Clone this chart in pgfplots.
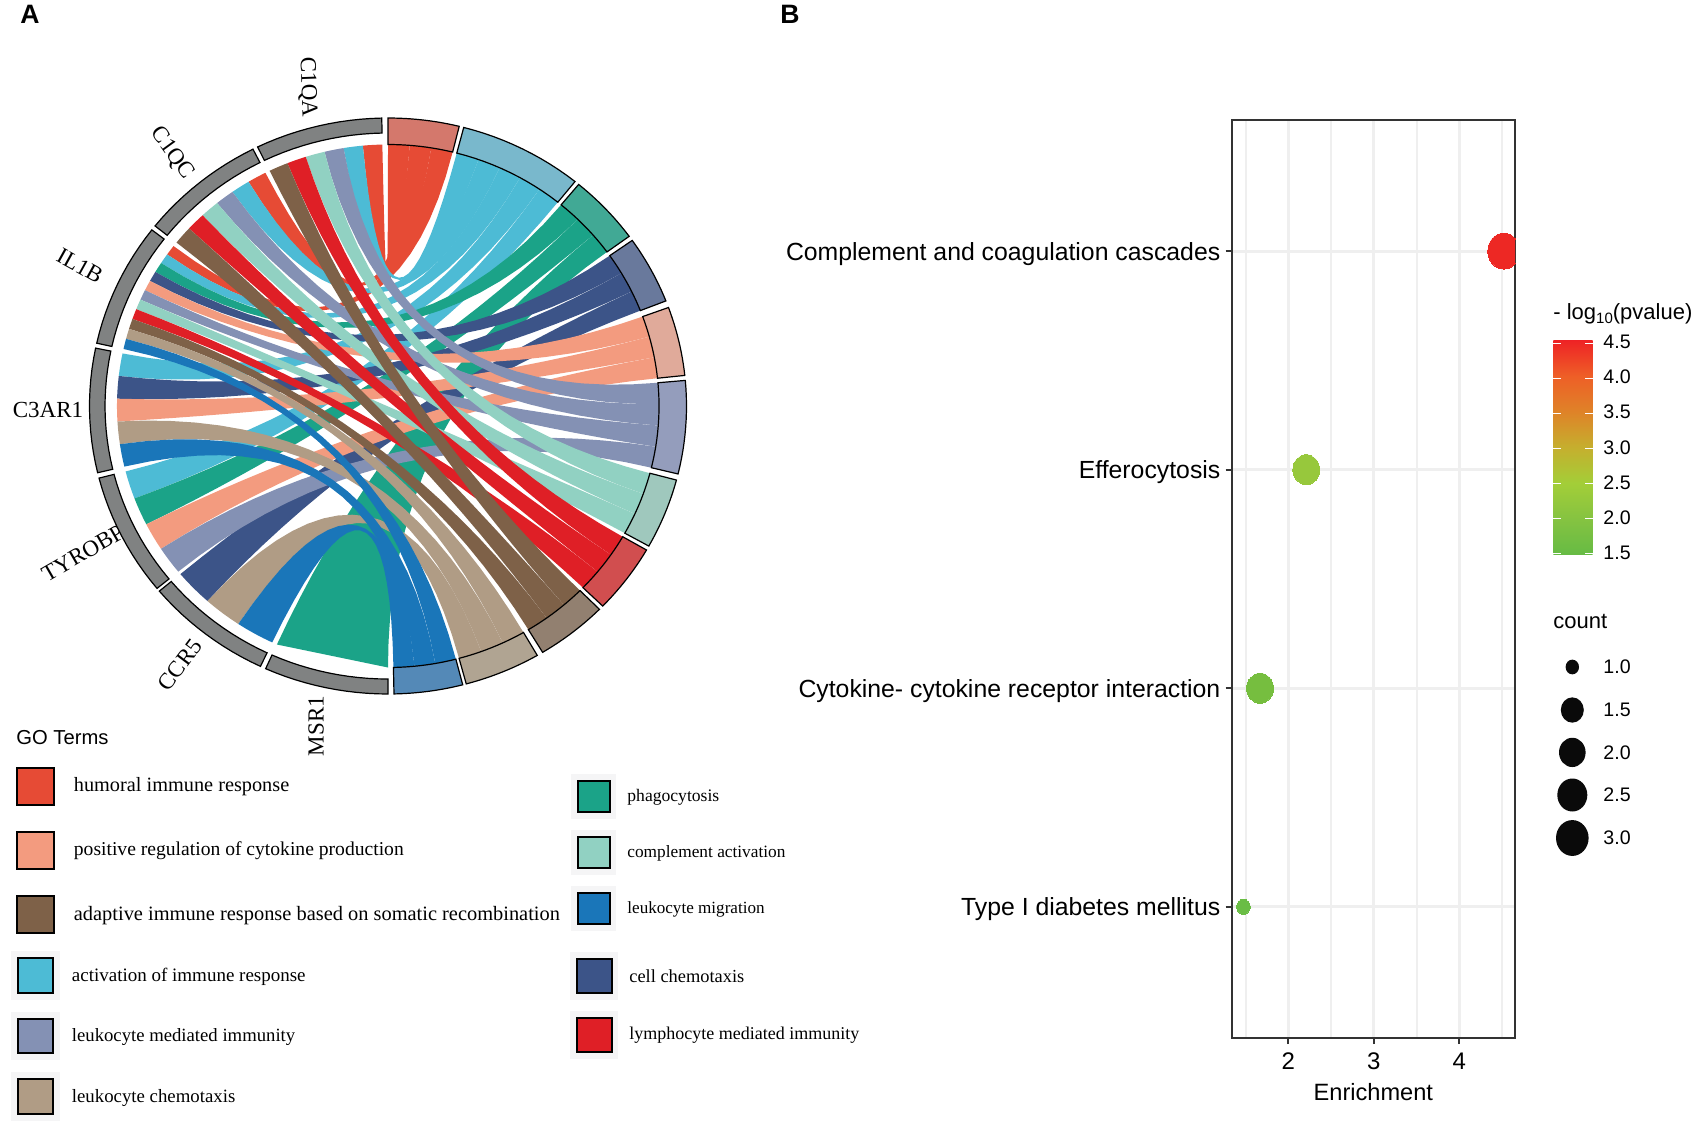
\documentclass[border=0pt]{standalone}
\usepackage{fontspec}
\setmainfont{Liberation Sans}
\newfontfamily\serifx{Liberation Serif}
\usepackage{pgfplots}
\pgfplotsset{compat=1.18}
\definecolor{cHum}{HTML}{E64B35}
\definecolor{cAct}{HTML}{4DBBD5}
\definecolor{cPha}{HTML}{1BA388}
\definecolor{cNav}{HTML}{3C5488}
\definecolor{cSal}{HTML}{F39B7F}
\definecolor{cSla}{HTML}{8491B4}
\definecolor{cMin}{HTML}{91D1C2}
\definecolor{cRed}{HTML}{DF1F26}
\definecolor{cBro}{HTML}{7E6148}
\definecolor{cTan}{HTML}{B09C85}
\definecolor{cBlu}{HTML}{1A76B9}
\definecolor{rHum}{HTML}{D4786C}
\definecolor{rAct}{HTML}{79B8CC}
\definecolor{rPha}{HTML}{41A995}
\definecolor{rNav}{HTML}{69799C}
\definecolor{rSal}{HTML}{E0AA9A}
\definecolor{rSla}{HTML}{949DBC}
\definecolor{rMin}{HTML}{9FC8BD}
\definecolor{rRed}{HTML}{D14E4F}
\definecolor{rBro}{HTML}{928070}
\definecolor{rTan}{HTML}{B0A492}
\definecolor{rBlu}{HTML}{5489B7}
\definecolor{rGen}{HTML}{808282}
\definecolor{gridc}{HTML}{EFEFEF}
\definecolor{panel}{HTML}{333333}
\definecolor{sbg}{HTML}{F5F5F6}
\definecolor{pA}{HTML}{ED2824}
\definecolor{pB}{HTML}{97C83C}
\definecolor{pC}{HTML}{76BE3F}
\definecolor{pD}{HTML}{6ABD45}
\definecolor{cb0}{HTML}{66BB44}
\definecolor{cb1}{HTML}{85C341}
\definecolor{cb2}{HTML}{A3CE38}
\definecolor{cb3}{HTML}{C5AF2E}
\definecolor{cb4}{HTML}{DF8328}
\definecolor{cb5}{HTML}{EE5F27}
\definecolor{cb6}{HTML}{EE2325}
\pgfdeclareverticalshading{cbar}{100bp}{color(0bp)=(cb0);color(25bp)=(cb0);color(33.33bp)=(cb1);color(41.67bp)=(cb2);color(50bp)=(cb3);color(58.33bp)=(cb4);color(66.67bp)=(cb5);color(75bp)=(cb6);color(100bp)=(cb6)}
% chord geometry
\def\Rr{0.908}
\newcommand\addpts[2]{% arc from #1 to #2
  \foreach \k in {0,1,...,4}{%
    \pgfmathsetmacro\ang{#1+(#2-#1)*\k/4}%
    \pgfmathsetmacro\px{\Rr*cos(\ang)}%
    \pgfmathsetmacro\py{\Rr*sin(\ang)}%
    \xdef\pts{\pts (\px,\py)}%
  }}
\newcommand\addbez[2]{% quadratic, control at the centre, from angle #1 to #2
  \pgfmathsetmacro\ca{\Rr*cos(#1)}\pgfmathsetmacro\sa{\Rr*sin(#1)}%
  \pgfmathsetmacro\cb{\Rr*cos(#2)}\pgfmathsetmacro\sb{\Rr*sin(#2)}%
  \foreach \k in {1,2,...,19}{%
    \pgfmathsetmacro\tt{\k/20}%
    \pgfmathsetmacro\px{(1-\tt)*(1-\tt)*\ca+\tt*\tt*\cb}%
    \pgfmathsetmacro\py{(1-\tt)*(1-\tt)*\sa+\tt*\tt*\sb}%
    \xdef\pts{\pts (\px,\py)}%
  }}
\newcommand\ribbon[5]{%
  \gdef\pts{}%
  \addpts{#2}{#3}\addbez{#3}{#4}\addpts{#4}{#5}\addbez{#5}{#2}%
  \edef\tmp{\noexpand\addplot[fill=#1,draw=none,forget plot] coordinates {\pts};}\tmp}
\newcommand\chordflat[5]{% gene end drawn as a straight edge
  \gdef\pts{}%
  \pgfmathsetmacro\px{\Rr*cos(#2)}\pgfmathsetmacro\py{\Rr*sin(#2)}\xdef\pts{(\px,\py)}%
  \pgfmathsetmacro\px{\Rr*cos(#3)}\pgfmathsetmacro\py{\Rr*sin(#3)}\xdef\pts{\pts (\px,\py)}%
  \addbez{#3}{#4}\addpts{#4}{#5}\addbez{#5}{#2}%
  \edef\tmp{\noexpand\addplot[fill=#1,draw=none,forget plot] coordinates {\pts};}\tmp}
\newcommand\sector[5]{% colour, a1, a2, r inner, r outer
  \gdef\pts{}%
  \foreach \k in {0,1,...,12}{%
    \pgfmathsetmacro\ang{#2+(#3-#2)*\k/12}%
    \pgfmathsetmacro\px{#5*cos(\ang)}\pgfmathsetmacro\py{#5*sin(\ang)}%
    \xdef\pts{\pts (\px,\py)}}%
  \foreach \k in {12,11,...,0}{%
    \pgfmathsetmacro\ang{#2+(#3-#2)*\k/12}%
    \pgfmathsetmacro\px{#4*cos(\ang)}\pgfmathsetmacro\py{#4*sin(\ang)}%
    \xdef\pts{\pts (\px,\py)}}%
  \edef\tmp{\noexpand\addplot[fill=#1,draw=black,line width=0.6pt,line join=miter,forget plot] coordinates {\pts} -- cycle;}\tmp}
\begin{document}
\begin{tikzpicture}
\useasboundingbox (0,0) rectangle (850.5pt,566pt);
\begin{scope}[x=0.5pt,y=-0.5pt,shift={(0,566pt)}]
\node[font=\bfseries\fontsize{13.3}{14}\selectfont,inner sep=0] at (30,14.5) {A};
\node[font=\bfseries\fontsize{13.3}{14}\selectfont,inner sep=0] at (790,14.5) {B};
\begin{scope}[every node/.style={font=\serifx\fontsize{11.5}{13}\selectfont,inner sep=0}]
\node[rotate=-88] at (307.5,87) {C1QA};
\node[rotate=-54] at (172,153) {C1QC};
\node[rotate=-29] at (80,266) {IL1B};
\node at (48,410) {C3AR1};
\node[rotate=30] at (83,553) {TYROBP};
\node[rotate=53] at (180,665) {CCR5};
\node[rotate=90] at (316,726) {MSR1};
\end{scope}
\end{scope}
\begin{axis}[at={(-0.025pt,175.8pt)},anchor=south west,scale only axis,
  width=388.05pt,height=374.4pt,xmin=-1.3,xmax=1.3,ymin=-1.3,ymax=1.3,
  hide axis,clip=false]
\ribbon{cHum}{91.2}{95.32}{85.4}{90}
\ribbon{cHum}{116.9}{120.97}{80.8}{85.4}
\ribbon{cHum}{142.3}{144.58}{76.2}{80.8}
\ribbon{cAct}{95.32}{99.43}{70.48}{75.3}
\ribbon{cAct}{120.97}{125.03}{65.66}{70.48}
\ribbon{cAct}{144.58}{146.86}{60.84}{65.66}
\ribbon{cAct}{168.4}{173.4}{56.02}{60.84}
\ribbon{cAct}{194.5}{200.7}{51.2}{56.02}
\ribbon{cPha}{146.86}{149.15}{45.57}{50.3}
\ribbon{cPha}{200.7}{206.9}{40.83}{45.57}
\chordflat{cPha}{245.8}{270}{36.1}{40.83}
\ribbon{cNav}{149.15}{151.43}{30.53}{35.1}
\ribbon{cNav}{173.4}{178.4}{25.97}{30.53}
\ribbon{cNav}{220}{228.23}{21.4}{25.97}
\ribbon{cSal}{151.43}{153.71}{15.37}{20}
\ribbon{cSal}{178.4}{183.4}{10.73}{15.37}
\ribbon{cSal}{206.9}{213.1}{6.1}{10.73}
\ribbon{cSla}{99.43}{103.55}{0.41}{5.1}
\ribbon{cSla}{125.03}{129.1}{-4.28}{0.41}
\ribbon{cSla}{153.71}{155.99}{-8.96}{-4.28}
\ribbon{cSla}{213.1}{219.3}{-13.65}{-8.96}
\ribbon{cMin}{103.55}{107.67}{-19.63}{-14.9}
\ribbon{cMin}{129.1}{133.17}{-24.37}{-19.63}
\ribbon{cMin}{155.99}{158.27}{-29.1}{-24.37}
\ribbon{cRed}{107.67}{111.78}{-34.67}{-30}
\ribbon{cRed}{133.17}{137.23}{-39.33}{-34.67}
\ribbon{cRed}{158.27}{160.56}{-44}{-39.33}
\ribbon{cBro}{111.78}{115.9}{-49.53}{-44.9}
\ribbon{cBro}{137.23}{141.3}{-54.17}{-49.53}
\ribbon{cBro}{160.56}{162.84}{-58.8}{-54.17}
\ribbon{cTan}{162.84}{165.12}{-64.93}{-60}
\ribbon{cTan}{183.4}{188.4}{-69.87}{-64.93}
\ribbon{cTan}{228.23}{236.47}{-74.8}{-69.87}
\ribbon{cBlu}{165.12}{167.4}{-79.95}{-75.5}
\ribbon{cBlu}{188.4}{193.4}{-84.4}{-79.95}
\ribbon{cBlu}{236.47}{244.7}{-88.85}{-84.4}
% term sectors
\sector{rHum}{76.2}{90}{0.908}{1}
\sector{rAct}{51.2}{75.3}{0.908}{1}
\sector{rPha}{36.1}{50.3}{0.908}{1}
\sector{rNav}{21.4}{35.1}{0.908}{1}
\sector{rSal}{6.1}{20}{0.908}{1}
\sector{rSla}{-13.65}{5.1}{0.908}{1}
\sector{rMin}{-29.1}{-14.9}{0.908}{1}
\sector{rRed}{-44}{-30}{0.908}{1}
\sector{rBro}{-58.8}{-44.9}{0.908}{1}
\sector{rTan}{-74.8}{-60}{0.908}{1}
\sector{rBlu}{-88.85}{-75.5}{0.908}{1}
% gene sectors
\sector{rGen}{91.2}{115.9}{0.948}{1}
\sector{rGen}{116.9}{141.3}{0.948}{1}
\sector{rGen}{142.3}{167.4}{0.948}{1}
\sector{rGen}{168.4}{193.4}{0.948}{1}
\sector{rGen}{194.5}{219.3}{0.948}{1}
\sector{rGen}{220}{244.7}{0.948}{1}
\sector{rGen}{245.8}{270}{0.948}{1}
\end{axis}
% panel B
\begin{axis}[at={(615.85pt,47pt)},anchor=south west,scale only axis,
  width=141.65pt,height=459pt,
  xmin=1.338,xmax=4.651,ymin=0.4,ymax=4.6,
  xtick={2,3,4},minor xtick={1.5,2.5,3.5,4.5},
  ytick={1,2,3,4},
  yticklabels={Type I diabetes mellitus,Cytokine- cytokine receptor interaction,Efferocytosis,Complement and coagulation cascades},
  tick pos=left,tick align=outside,
  major tick length=3pt,minor tick length=0pt,
  tick style={panel,line width=1pt},
  axis line style={panel,line width=1pt},
  grid=both,
  major grid style={gridc,line width=1.4pt},
  minor grid style={gridc,line width=1pt},
  yticklabel style={font=\fontsize{12.4}{14}\selectfont,inner sep=0pt,xshift=-2.5pt,yshift=-1.3pt},
  xticklabel style={font=\fontsize{12}{14}\selectfont,yshift=-1pt},
  /pgf/number format/assume math mode=true,
  xlabel={Enrichment},xlabel style={font=\fontsize{11.8}{14}\selectfont,yshift=0.3pt},
  clip marker paths=true]
\addplot[only marks,color=pA,mark=*,mark size=8pt,mark options={draw=pA,line width=0pt,fill=pA,yscale=1.12}] coordinates {(4.52,4)};
\addplot[only marks,color=pB,mark=*,mark size=6.7pt,mark options={draw=pB,line width=0pt,fill=pB,yscale=1.12}] coordinates {(2.21,3)};
\addplot[only marks,color=pC,mark=*,mark size=6.7pt,mark options={draw=pC,line width=0pt,fill=pC,yscale=1.12}] coordinates {(1.67,2)};
\addplot[only marks,color=pD,mark=*,mark size=3.4pt,mark options={draw=pD,line width=0pt,fill=pD,yscale=1.1}] coordinates {(1.475,1)};
\end{axis}
\begin{scope}[x=0.5pt,y=-0.5pt,shift={(0,566pt)}]
% colour bar legend
\node[anchor=west,inner sep=0,font=\fontsize{11}{13}\selectfont] at (1553,314) {- log\raisebox{-0.35ex}{\fontsize{7.5}{8}\selectfont 10}(pvalue)};
\shade[shading=cbar] (1553.3,340.5) rectangle (1592.7,554.7);
\foreach \yy/\lab in {343/4.5,378.1/4.0,413.2/3.5,448.3/3.0,483.4/2.5,518.5/2.0,553.6/1.5}{
  \draw[white,line width=0.5pt] (1553.3,\yy) -- (1561,\yy);
  \draw[white,line width=0.5pt] (1585,\yy) -- (1592.7,\yy);
  \node[anchor=west,inner sep=0,font=\fontsize{9.8}{12}\selectfont] at (1603,\yy-1) {\lab};
}
\node[anchor=west,inner sep=0,font=\fontsize{11}{13}\selectfont] at (1553,621) {count};
\foreach \yy/\lab/\dd in {667/1.0/6.7,710/1.5/11.5,752.4/2.0/13.3,795/2.5/15,838/3.0/16.3}{
  \pgfmathsetmacro\ee{\dd*1.1}
  \fill[black!96] (1572.3,\yy) ellipse ({\dd} and {\ee});
  \node[anchor=west,inner sep=0,font=\fontsize{9.8}{12}\selectfont] at (1603,\yy) {\lab};
}
% GO legend
\node[anchor=west,inner sep=0,font=\fontsize{10.1}{12}\selectfont] at (16,738) {GO Terms};
\foreach \xa/\ya/\xb/\yb/\cc in {17/768/54/805/cHum,17/832/54/869/cSal,17/896/54/933/cBro}{
  \filldraw[fill=\cc,draw=black,line width=0.6pt] (\xa,\ya) rectangle (\xb,\yb);}
\foreach \xa/\ya/\xb/\yb/\cc in {18/958/53/993/cAct,18/1019/53/1053/cSla,18/1079/53/1114/cTan}{
  \fill[sbg] (\xa-7,\ya-7) rectangle (\xb+7,\yb+7);
  \filldraw[fill=\cc,draw=black,line width=0.6pt] (\xa,\ya) rectangle (\xb,\yb);}
\foreach \xa/\ya/\xb/\yb/\cc in {578/781/610/812/cPha,578/837/610/868/cMin,578/893/610/924/cBlu,577/959/612/993/cNav,577/1018/612/1052/cRed}{
  \fill[sbg] (\xa-7,\ya-7) rectangle (\xb+6,\yb+7);
  \filldraw[fill=\cc,draw=black,line width=0.6pt] (\xa,\ya) rectangle (\xb,\yb);}
\begin{scope}[every node/.style={anchor=west,inner sep=0}]
\node[font=\serifx\fontsize{10.15}{12}\selectfont] at (73.5,787) {humoral immune response};
\node[font=\serifx\fontsize{9.8}{12}\selectfont] at (73.5,851) {positive regulation of cytokine production};
\node[font=\serifx\fontsize{10.2}{12}\selectfont] at (73.5,916) {adaptive immune response based on somatic recombination};
\node[font=\serifx\fontsize{9.5}{12}\selectfont] at (71.5,977) {activation of immune response};
\node[font=\serifx\fontsize{9.35}{12}\selectfont] at (71.5,1037) {leukocyte mediated immunity};
\node[font=\serifx\fontsize{9.4}{12}\selectfont] at (71.5,1098) {leukocyte chemotaxis};
\node[font=\serifx\fontsize{8.8}{11}\selectfont] at (627,797) {phagocytosis};
\node[font=\serifx\fontsize{8.65}{11}\selectfont] at (627,853) {complement activation};
\node[font=\serifx\fontsize{8.55}{11}\selectfont] at (627,909) {leukocyte migration};
\node[font=\serifx\fontsize{9.2}{11}\selectfont] at (629,976) {cell chemotaxis};
\node[font=\serifx\fontsize{9}{11}\selectfont] at (629,1035) {lymphocyte mediated immunity};
\end{scope}
\end{scope}
\end{tikzpicture}
\end{document}
